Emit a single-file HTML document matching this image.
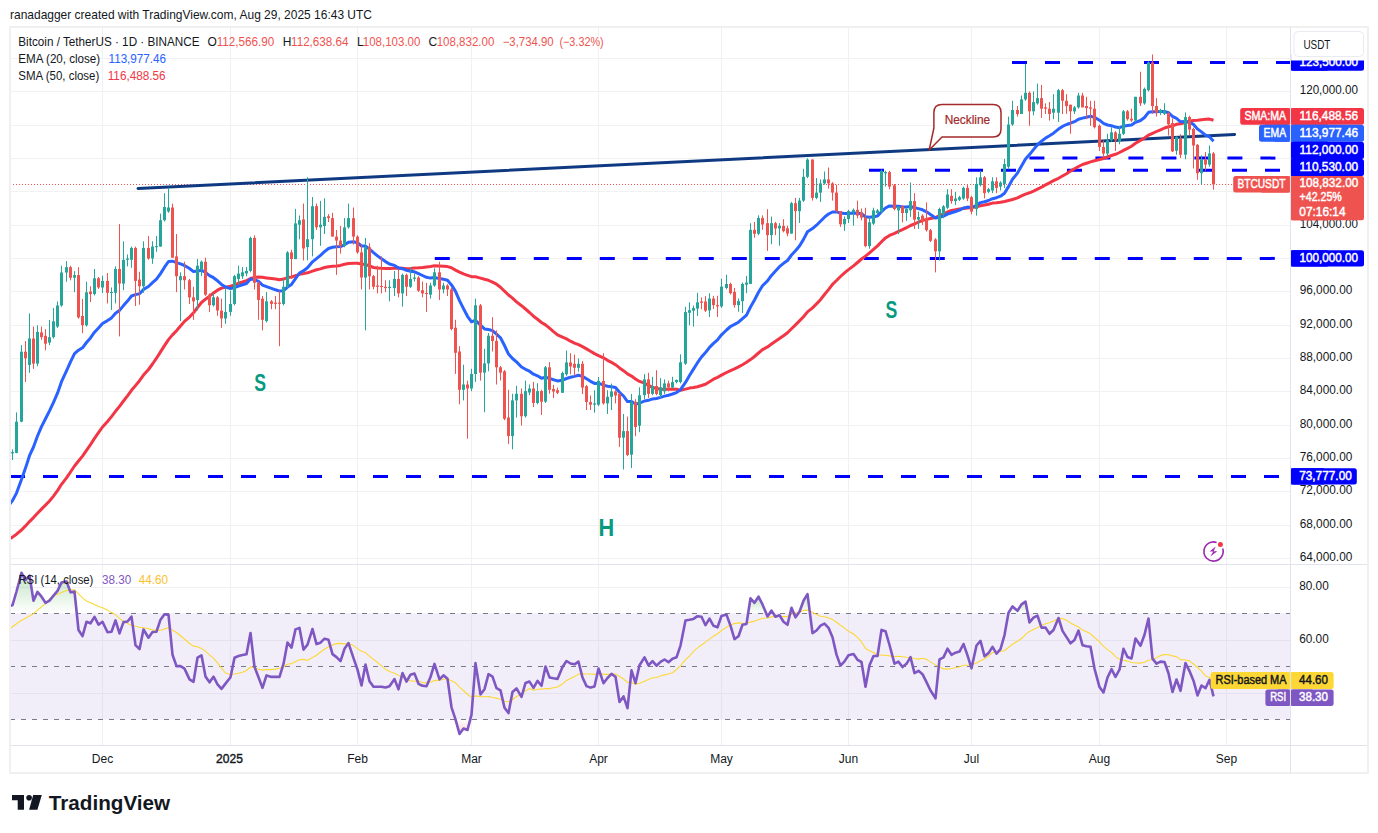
<!DOCTYPE html><html><head><meta charset="utf-8"><style>html,body{margin:0;padding:0;background:#fff;width:1378px;height:833px;overflow:hidden}text{font-family:"Liberation Sans",sans-serif}</style></head><body><svg width="1378" height="833" viewBox="0 0 1378 833" style="display:block;font-family:'Liberation Sans', sans-serif"><rect x="0" y="0" width="1378" height="833" fill="#ffffff"/><defs><clipPath id="pp"><rect x="11" y="28" width="1279" height="536"/></clipPath><clipPath id="rp"><rect x="11" y="565" width="1279" height="180"/></clipPath><linearGradient id="gfill" x1="0" y1="0" x2="0" y2="1"><stop offset="0" stop-color="#4caf50" stop-opacity="0.35"/><stop offset="1" stop-color="#4caf50" stop-opacity="0"/></linearGradient><linearGradient id="rfill" x1="0" y1="0" x2="0" y2="1"><stop offset="0" stop-color="#f23645" stop-opacity="0"/><stop offset="1" stop-color="#f23645" stop-opacity="0.25"/></linearGradient></defs><text x="10.0" y="19.2" font-size="13" fill="#131722" font-weight="normal" text-anchor="start" textLength="362.0" lengthAdjust="spacingAndGlyphs">ranadagger created with TradingView.com, Aug 29, 2025 16:43 UTC</text><rect x="10" y="27" width="1358" height="746" fill="none" stroke="#f0f0f0" stroke-width="2"/><line x1="11" y1="558.5" x2="1290" y2="558.5" stroke="#f1f1f2" stroke-width="1"/><line x1="11" y1="525.5" x2="1290" y2="525.5" stroke="#f1f1f2" stroke-width="1"/><line x1="11" y1="491.5" x2="1290" y2="491.5" stroke="#f1f1f2" stroke-width="1"/><line x1="11" y1="458.5" x2="1290" y2="458.5" stroke="#f1f1f2" stroke-width="1"/><line x1="11" y1="425.5" x2="1290" y2="425.5" stroke="#f1f1f2" stroke-width="1"/><line x1="11" y1="391.5" x2="1290" y2="391.5" stroke="#f1f1f2" stroke-width="1"/><line x1="11" y1="358.5" x2="1290" y2="358.5" stroke="#f1f1f2" stroke-width="1"/><line x1="11" y1="325.5" x2="1290" y2="325.5" stroke="#f1f1f2" stroke-width="1"/><line x1="11" y1="291.5" x2="1290" y2="291.5" stroke="#f1f1f2" stroke-width="1"/><line x1="11" y1="258.5" x2="1290" y2="258.5" stroke="#f1f1f2" stroke-width="1"/><line x1="11" y1="225.5" x2="1290" y2="225.5" stroke="#f1f1f2" stroke-width="1"/><line x1="11" y1="191.5" x2="1290" y2="191.5" stroke="#f1f1f2" stroke-width="1"/><line x1="11" y1="158.5" x2="1290" y2="158.5" stroke="#f1f1f2" stroke-width="1"/><line x1="11" y1="125.5" x2="1290" y2="125.5" stroke="#f1f1f2" stroke-width="1"/><line x1="11" y1="91.5" x2="1290" y2="91.5" stroke="#f1f1f2" stroke-width="1"/><line x1="11" y1="58.5" x2="1290" y2="58.5" stroke="#f1f1f2" stroke-width="1"/><line x1="102.5" y1="28" x2="102.5" y2="745" stroke="#f1f1f2" stroke-width="1"/><line x1="230.5" y1="28" x2="230.5" y2="745" stroke="#f1f1f2" stroke-width="1"/><line x1="357.5" y1="28" x2="357.5" y2="745" stroke="#f1f1f2" stroke-width="1"/><line x1="471.5" y1="28" x2="471.5" y2="745" stroke="#f1f1f2" stroke-width="1"/><line x1="598.5" y1="28" x2="598.5" y2="745" stroke="#f1f1f2" stroke-width="1"/><line x1="721.5" y1="28" x2="721.5" y2="745" stroke="#f1f1f2" stroke-width="1"/><line x1="848.5" y1="28" x2="848.5" y2="745" stroke="#f1f1f2" stroke-width="1"/><line x1="971.5" y1="28" x2="971.5" y2="745" stroke="#f1f1f2" stroke-width="1"/><line x1="1099.5" y1="28" x2="1099.5" y2="745" stroke="#f1f1f2" stroke-width="1"/><line x1="1226.5" y1="28" x2="1226.5" y2="745" stroke="#f1f1f2" stroke-width="1"/><line x1="11" y1="587.5" x2="1290" y2="587.5" stroke="#f1f1f2" stroke-width="1"/><line x1="11" y1="640.5" x2="1290" y2="640.5" stroke="#f1f1f2" stroke-width="1"/><line x1="11" y1="693.5" x2="1290" y2="693.5" stroke="#f1f1f2" stroke-width="1"/><line x1="1290.5" y1="27" x2="1290.5" y2="773" stroke="#e0e3eb" stroke-width="1"/><line x1="11" y1="564.5" x2="1367" y2="564.5" stroke="#e0e3eb" stroke-width="1.2"/><line x1="11" y1="745.5" x2="1367" y2="745.5" stroke="#e0e3eb" stroke-width="1"/><g clip-path="url(#rp)"><rect x="11" y="613.2" width="1279" height="106.3" fill="#7e57c2" fill-opacity="0.1"/><polygon points="8.5,613.2 8.5,606.2 8.5,606.2 12.5,605.2 16.5,591.5 21.5,572.8 25.5,580.0 29.5,575.6 33.5,600.8 37.5,591.9 41.5,596.7 45.5,602.8 49.5,600.6 53.5,595.6 57.5,590.9 61.5,582.6 66.5,581.4 70.5,592.2 74.5,591.5 76.8,613.2" fill="url(#gfill)"/><polygon points="748.2,613.2 750.5,598.3 754.5,602.8 758.5,596.7 762.5,604.4 766.2,613.2" fill="url(#gfill)"/><polygon points="769.7,613.2 771.5,610.6 773.2,613.2" fill="url(#gfill)"/><polygon points="790.2,613.2 791.5,607.7 793.8,613.2" fill="url(#gfill)"/><polygon points="798.4,613.2 799.5,611.7 803.5,600.7 807.5,594.1 809.9,613.2" fill="url(#gfill)"/><polygon points="1008.4,613.2 1008.5,612.7 1012.5,606.4 1017.5,610.8 1021.5,604.4 1025.5,601.6 1027.7,613.2" fill="url(#gfill)"/><polygon points="455.5,719.5 459.5,733.9 463.5,728.5 467.5,730.0 470.2,719.5" fill="url(#rfill)"/><line x1="10" y1="613.5" x2="1290" y2="613.5" stroke="#787b86" stroke-width="1" stroke-dasharray="5,6"/><line x1="10" y1="666.5" x2="1290" y2="666.5" stroke="#787b86" stroke-width="1" stroke-dasharray="5,6"/><line x1="10" y1="719.5" x2="1290" y2="719.5" stroke="#787b86" stroke-width="1" stroke-dasharray="5,6"/><polyline points="8.5,629.5 12.5,626.8 16.5,623.7 21.5,620.2 25.5,618.3 29.5,616.0 33.5,613.7 37.5,610.2 41.5,606.8 45.5,603.4 49.5,599.2 53.5,595.6 57.5,594.2 61.5,592.4 66.5,590.6 70.5,589.7 74.5,589.7 78.5,593.8 82.5,597.8 86.5,601.1 90.5,602.7 94.5,604.5 98.5,606.5 102.5,607.8 107.5,610.1 111.5,612.6 115.5,614.8 119.5,618.4 123.5,621.3 127.5,623.4 131.5,625.2 135.5,626.3 139.5,627.2 143.5,627.8 148.5,628.8 152.5,629.9 156.5,630.4 160.5,630.2 164.5,628.9 168.5,627.7 172.5,630.2 176.5,632.5 180.5,635.7 184.5,639.0 189.5,643.5 193.5,646.1 197.5,646.7 201.5,648.6 205.5,651.3 209.5,654.9 213.5,658.1 217.5,662.8 221.5,668.1 225.5,673.0 230.5,674.6 234.5,674.0 238.5,673.3 242.5,672.3 246.5,670.5 250.5,667.0 254.5,667.7 258.5,669.3 262.5,670.1 266.5,669.6 271.5,669.6 275.5,669.1 279.5,668.2 283.5,666.8 287.5,664.3 291.5,663.6 295.5,661.7 299.5,659.8 303.5,659.4 307.5,660.3 312.5,657.5 316.5,655.2 320.5,652.0 324.5,649.3 328.5,646.7 332.5,645.1 336.5,643.6 340.5,643.4 344.5,643.9 348.5,643.6 353.5,645.6 357.5,648.6 361.5,651.2 365.5,652.6 369.5,656.3 373.5,659.4 377.5,662.5 381.5,665.9 385.5,669.3 389.5,671.6 394.5,673.2 398.5,675.2 402.5,677.0 406.5,679.7 410.5,680.9 414.5,681.2 418.5,681.1 422.5,682.6 426.5,682.9 430.5,682.2 434.5,680.6 439.5,680.1 443.5,679.2 447.5,678.7 451.5,680.7 455.5,682.8 459.5,687.2 463.5,690.5 467.5,694.5 471.5,697.4 475.5,695.9 480.5,696.6 484.5,696.8 488.5,696.6 492.5,697.5 496.5,698.1 500.5,699.2 504.5,701.3 508.5,701.7 512.5,699.7 516.5,696.5 521.5,694.2 525.5,690.9 529.5,688.5 533.5,690.3 537.5,689.3 541.5,689.1 545.5,688.5 549.5,688.6 553.5,687.8 557.5,687.0 562.5,684.1 566.5,680.4 570.5,678.4 574.5,676.6 578.5,674.1 582.5,673.7 586.5,674.0 590.5,674.0 594.5,674.4 598.5,673.2 603.5,674.4 607.5,674.4 611.5,674.1 615.5,674.0 619.5,676.5 623.5,679.0 627.5,682.2 631.5,682.6 635.5,684.2 639.5,683.3 644.5,681.2 648.5,679.6 652.5,677.8 656.5,677.6 660.5,676.1 664.5,674.8 668.5,674.0 672.5,672.7 676.5,669.5 680.5,665.9 685.5,659.6 689.5,656.0 693.5,651.4 697.5,647.9 701.5,645.0 705.5,642.1 709.5,639.1 713.5,636.2 717.5,633.8 721.5,630.6 726.5,627.2 730.5,624.9 734.5,623.6 738.5,622.9 742.5,623.2 746.5,623.5 750.5,622.1 754.5,621.1 758.5,619.7 762.5,618.2 767.5,618.0 771.5,616.9 775.5,616.2 779.5,616.1 783.5,616.6 787.5,616.6 791.5,614.3 795.5,613.0 799.5,612.0 803.5,610.4 807.5,610.1 812.5,612.2 816.5,614.6 820.5,616.2 824.5,616.7 828.5,617.9 832.5,619.4 836.5,622.2 840.5,625.3 844.5,627.9 848.5,631.3 853.5,634.0 857.5,637.4 861.5,641.8 865.5,648.4 869.5,650.7 873.5,652.5 877.5,654.7 881.5,655.1 885.5,655.3 889.5,655.9 894.5,656.5 898.5,656.3 902.5,656.7 906.5,657.3 910.5,657.5 914.5,658.5 918.5,659.1 922.5,658.2 926.5,659.4 930.5,661.9 935.5,664.9 939.5,667.0 943.5,668.9 947.5,669.1 951.5,668.5 955.5,667.8 959.5,666.7 963.5,665.3 967.5,665.2 971.5,664.8 976.5,663.0 980.5,660.7 984.5,658.8 988.5,656.2 992.5,652.5 996.5,652.1 1000.5,651.5 1004.5,650.5 1008.5,647.5 1012.5,644.2 1017.5,641.3 1021.5,638.5 1025.5,634.6 1029.5,631.4 1033.5,629.4 1037.5,627.6 1041.5,625.5 1045.5,623.7 1049.5,622.8 1053.5,621.1 1058.5,618.8 1062.5,618.5 1066.5,620.3 1070.5,622.9 1074.5,625.0 1078.5,626.9 1082.5,630.0 1086.5,631.7 1090.5,633.8 1094.5,637.5 1099.5,641.8 1103.5,646.4 1107.5,649.6 1111.5,652.4 1115.5,656.6 1119.5,659.3 1123.5,660.2 1127.5,661.1 1131.5,662.5 1135.5,663.0 1140.5,663.1 1144.5,662.3 1148.5,660.2 1152.5,659.5 1156.5,657.8 1160.5,655.6 1164.5,654.5 1168.5,654.8 1172.5,655.9 1176.5,656.6 1180.5,659.6 1185.5,660.0 1189.5,660.9 1193.5,664.0 1197.5,667.5 1201.5,671.1 1205.5,676.1 1209.5,677.6 1213.5,680.0" fill="none" stroke="#fdd835" stroke-width="1.1" stroke-linejoin="round"/><polyline points="8.5,606.2 12.5,605.2 16.5,591.5 21.5,572.8 25.5,580.0 29.5,575.6 33.5,600.8 37.5,591.9 41.5,596.7 45.5,602.8 49.5,600.6 53.5,595.6 57.5,590.9 61.5,582.6 66.5,581.4 70.5,592.2 74.5,591.5 78.5,630.0 82.5,636.1 86.5,621.8 90.5,623.3 94.5,616.9 98.5,624.7 102.5,621.8 107.5,632.2 111.5,631.7 115.5,620.4 119.5,633.4 123.5,622.1 127.5,621.5 131.5,616.6 135.5,645.2 139.5,649.2 143.5,629.5 148.5,637.7 152.5,632.0 156.5,631.7 160.5,619.7 164.5,614.3 168.5,614.9 172.5,654.7 176.5,666.1 180.5,666.1 184.5,668.6 189.5,679.4 193.5,681.8 197.5,657.7 201.5,655.3 205.5,676.4 209.5,682.3 213.5,676.7 217.5,684.4 221.5,688.9 225.5,683.6 230.5,677.3 234.5,657.7 238.5,656.0 242.5,655.1 246.5,654.2 250.5,633.0 254.5,666.9 258.5,677.2 262.5,687.9 266.5,675.4 271.5,676.9 275.5,676.9 279.5,676.9 283.5,663.9 287.5,642.5 291.5,647.6 295.5,629.4 299.5,627.9 303.5,649.6 307.5,644.6 312.5,629.0 316.5,644.1 320.5,642.7 324.5,638.7 328.5,639.8 332.5,654.1 336.5,657.1 340.5,661.1 344.5,648.8 348.5,643.1 353.5,658.1 357.5,669.6 361.5,685.4 365.5,664.6 369.5,681.2 373.5,686.7 377.5,686.7 381.5,686.7 385.5,687.5 389.5,686.3 394.5,679.1 398.5,689.3 402.5,673.0 406.5,681.6 410.5,674.7 414.5,673.6 418.5,683.8 422.5,685.8 426.5,686.2 430.5,677.0 434.5,663.9 439.5,679.3 443.5,675.3 447.5,678.8 451.5,707.3 455.5,719.4 459.5,733.9 463.5,728.5 467.5,730.0 471.5,714.6 475.5,663.1 480.5,694.5 484.5,689.2 488.5,674.2 492.5,676.6 496.5,688.2 500.5,690.4 504.5,707.7 508.5,713.1 512.5,692.0 516.5,688.4 521.5,696.9 525.5,683.0 529.5,681.6 533.5,687.9 537.5,680.9 541.5,685.8 545.5,666.5 549.5,677.4 553.5,678.2 557.5,678.9 562.5,667.0 566.5,661.0 570.5,663.5 574.5,664.3 578.5,661.7 582.5,677.5 586.5,686.1 590.5,687.6 594.5,686.5 598.5,668.5 603.5,683.2 607.5,678.0 611.5,673.9 615.5,676.7 619.5,702.0 623.5,696.4 627.5,708.2 631.5,670.3 635.5,683.2 639.5,665.3 644.5,657.4 648.5,665.3 652.5,661.1 656.5,665.7 660.5,661.9 664.5,659.5 668.5,662.2 672.5,658.7 676.5,657.3 680.5,645.6 685.5,620.5 689.5,619.8 693.5,618.9 697.5,616.2 701.5,616.8 705.5,625.2 709.5,618.6 713.5,625.8 717.5,627.3 721.5,616.0 726.5,614.6 730.5,625.7 734.5,639.1 738.5,636.3 742.5,624.8 746.5,623.9 750.5,598.3 754.5,602.8 758.5,596.7 762.5,604.4 767.5,616.4 771.5,610.6 775.5,616.7 779.5,615.3 783.5,621.7 787.5,624.8 791.5,607.7 795.5,617.3 799.5,611.7 803.5,600.7 807.5,594.1 812.5,633.2 816.5,630.5 820.5,625.7 824.5,623.7 828.5,627.8 832.5,637.3 836.5,654.6 840.5,665.6 844.5,661.4 848.5,655.2 853.5,654.1 857.5,659.8 861.5,662.0 865.5,686.7 869.5,665.2 873.5,656.0 877.5,656.0 881.5,629.9 885.5,631.2 889.5,645.0 894.5,663.7 898.5,661.7 902.5,667.1 906.5,663.8 910.5,657.2 914.5,673.1 918.5,670.8 922.5,674.2 926.5,682.1 930.5,690.5 935.5,698.3 939.5,659.4 943.5,657.4 947.5,648.7 951.5,654.8 955.5,652.7 959.5,651.6 963.5,644.0 967.5,655.4 971.5,668.3 976.5,645.5 980.5,640.9 984.5,656.2 988.5,653.1 992.5,646.9 996.5,653.7 1000.5,649.2 1004.5,635.1 1008.5,612.7 1012.5,606.4 1017.5,610.8 1021.5,604.4 1025.5,601.6 1029.5,622.4 1033.5,617.7 1037.5,615.6 1041.5,627.6 1045.5,627.6 1049.5,633.8 1053.5,630.0 1058.5,618.0 1062.5,630.9 1066.5,637.1 1070.5,643.3 1074.5,640.0 1078.5,630.6 1082.5,645.2 1086.5,646.2 1090.5,646.8 1094.5,668.6 1099.5,687.1 1103.5,692.5 1107.5,677.5 1111.5,669.2 1115.5,676.8 1119.5,669.7 1123.5,648.7 1127.5,657.0 1131.5,658.4 1135.5,638.5 1140.5,645.8 1144.5,634.8 1148.5,618.6 1152.5,658.6 1156.5,663.6 1160.5,661.6 1164.5,662.0 1168.5,673.3 1172.5,692.0 1176.5,679.5 1180.5,690.8 1185.5,663.0 1189.5,671.1 1193.5,680.7 1197.5,695.4 1201.5,685.5 1205.5,688.2 1209.5,679.8 1213.5,696.4" fill="none" stroke="#7e57c2" stroke-width="2.6" stroke-linejoin="round"/></g><g clip-path="url(#pp)"><line x1="1012.0" y1="62.5" x2="1290.0" y2="62.5" stroke="#0000ff" stroke-width="3" stroke-dasharray="15,18"/><line x1="1029.4" y1="158.1" x2="1276.0" y2="158.1" stroke="#0000ff" stroke-width="3" stroke-dasharray="15,18"/><line x1="869.0" y1="170.3" x2="1290.0" y2="170.3" stroke="#0000ff" stroke-width="3" stroke-dasharray="15,18"/><line x1="434.8" y1="258.4" x2="1290.0" y2="258.4" stroke="#0000ff" stroke-width="3" stroke-dasharray="15,18"/><line x1="10.0" y1="476.4" x2="1290.0" y2="476.4" stroke="#0000ff" stroke-width="3" stroke-dasharray="15,18"/><line x1="13" y1="184.5" x2="1290" y2="184.5" stroke="#ef5350" stroke-width="1" stroke-dasharray="1,2"/><line x1="138" y1="188.5" x2="1234.6" y2="134.5" stroke="#0f3a82" stroke-width="3" stroke-linecap="round"/><polyline points="8.5,539.4 12.5,537.1 16.5,534.2 21.5,530.0 25.5,525.9 29.5,521.6 33.5,517.6 37.5,513.2 41.5,509.1 45.5,505.1 49.5,501.0 53.5,496.1 57.5,490.6 61.5,484.3 66.5,477.9 70.5,472.0 74.5,466.0 78.5,461.0 82.5,456.1 86.5,450.4 90.5,444.6 94.5,438.4 98.5,432.7 102.5,427.0 107.5,421.5 111.5,416.6 115.5,411.3 119.5,406.4 123.5,401.0 127.5,395.8 131.5,390.3 135.5,385.6 139.5,380.7 143.5,375.1 148.5,369.5 152.5,364.0 156.5,358.2 160.5,351.9 164.5,345.6 168.5,339.6 172.5,334.9 176.5,330.7 180.5,326.1 184.5,321.4 189.5,317.1 193.5,312.8 197.5,307.5 201.5,302.5 205.5,299.2 209.5,296.1 213.5,293.0 217.5,290.2 221.5,288.1 225.5,287.3 230.5,286.2 234.5,285.0 238.5,283.2 242.5,282.0 246.5,280.6 250.5,278.5 254.5,277.4 258.5,277.0 262.5,277.3 266.5,277.9 271.5,278.6 275.5,279.1 279.5,279.7 283.5,279.1 287.5,277.6 291.5,277.0 295.5,275.6 299.5,274.4 303.5,273.6 307.5,272.8 312.5,271.1 316.5,269.8 320.5,268.9 324.5,267.5 328.5,266.7 332.5,266.3 336.5,266.1 340.5,265.4 344.5,264.2 348.5,263.6 353.5,263.2 357.5,263.3 361.5,264.0 365.5,264.5 369.5,265.9 373.5,267.5 377.5,268.0 381.5,268.3 385.5,268.5 389.5,268.6 394.5,268.3 398.5,268.1 402.5,268.3 406.5,268.8 410.5,268.5 414.5,267.9 418.5,267.8 422.5,267.4 426.5,266.9 430.5,266.4 434.5,265.8 439.5,266.0 443.5,266.3 447.5,266.6 451.5,267.8 455.5,270.1 459.5,272.2 463.5,273.9 467.5,275.3 471.5,276.7 475.5,276.8 480.5,278.1 484.5,279.3 488.5,280.3 492.5,282.1 496.5,284.2 500.5,287.2 504.5,291.2 508.5,295.0 512.5,298.2 516.5,301.9 521.5,305.7 525.5,309.0 529.5,312.5 533.5,316.2 537.5,319.3 541.5,322.5 545.5,324.9 549.5,328.2 553.5,331.6 557.5,334.8 562.5,337.2 566.5,338.9 570.5,341.2 574.5,343.1 578.5,344.6 582.5,346.6 586.5,348.9 590.5,351.3 594.5,353.6 598.5,355.6 603.5,357.8 607.5,360.3 611.5,362.4 615.5,364.7 619.5,367.9 623.5,370.7 627.5,373.9 631.5,376.1 635.5,378.9 639.5,381.4 644.5,383.2 648.5,385.4 652.5,387.3 656.5,388.6 660.5,389.3 664.5,389.2 668.5,389.2 672.5,389.1 676.5,389.2 680.5,390.3 685.5,389.1 689.5,388.1 693.5,387.5 697.5,386.7 701.5,385.5 705.5,384.2 709.5,381.8 713.5,379.2 717.5,377.3 721.5,375.2 726.5,372.5 730.5,370.6 734.5,368.9 738.5,366.9 742.5,364.7 746.5,362.3 750.5,359.6 754.5,356.5 758.5,353.0 762.5,349.6 767.5,346.9 771.5,344.1 775.5,341.3 779.5,338.5 783.5,335.8 787.5,332.8 791.5,328.8 795.5,324.9 799.5,320.9 803.5,316.8 807.5,311.9 812.5,307.9 816.5,303.9 820.5,299.7 824.5,294.5 828.5,289.6 832.5,284.3 836.5,280.5 840.5,276.5 844.5,272.9 848.5,269.6 853.5,265.9 857.5,262.5 861.5,259.0 865.5,256.1 869.5,252.9 873.5,249.4 877.5,245.9 881.5,241.8 885.5,237.9 889.5,235.4 894.5,233.4 898.5,231.4 902.5,229.6 906.5,227.7 910.5,225.5 914.5,224.0 918.5,222.2 922.5,220.5 926.5,219.4 930.5,218.5 935.5,217.6 939.5,215.7 943.5,213.8 947.5,212.0 951.5,210.4 955.5,209.8 959.5,209.1 963.5,208.5 967.5,207.9 971.5,207.5 976.5,206.7 980.5,205.7 984.5,205.0 988.5,204.2 992.5,203.1 996.5,202.8 1000.5,202.2 1004.5,201.5 1008.5,200.5 1012.5,199.5 1017.5,197.8 1021.5,195.9 1025.5,194.1 1029.5,192.8 1033.5,191.1 1037.5,189.2 1041.5,187.2 1045.5,184.9 1049.5,182.8 1053.5,180.7 1058.5,178.3 1062.5,176.0 1066.5,173.8 1070.5,171.1 1074.5,168.8 1078.5,166.5 1082.5,164.5 1086.5,163.2 1090.5,161.9 1094.5,160.8 1099.5,159.5 1103.5,158.5 1107.5,157.0 1111.5,155.5 1115.5,154.3 1119.5,152.5 1123.5,150.4 1127.5,148.4 1131.5,146.2 1135.5,143.3 1140.5,140.4 1144.5,138.0 1148.5,135.1 1152.5,133.3 1156.5,131.5 1160.5,129.8 1164.5,128.0 1168.5,126.8 1172.5,125.8 1176.5,124.3 1180.5,123.7 1185.5,122.5 1189.5,121.3 1193.5,120.4 1197.5,120.2 1201.5,119.7 1205.5,119.3 1209.5,119.1 1213.5,120.3" fill="none" stroke="#f23645" stroke-width="3" stroke-linejoin="round"/><polyline points="8.5,505.7 12.5,500.6 16.5,493.1 21.5,479.6 25.5,468.1 29.5,455.7 33.5,447.0 37.5,436.0 41.5,426.6 45.5,418.7 49.5,410.9 53.5,402.4 57.5,393.2 61.5,381.7 66.5,370.8 70.5,361.9 74.5,353.6 78.5,350.2 82.5,347.8 86.5,342.5 90.5,337.9 94.5,332.2 98.5,328.0 102.5,323.5 107.5,320.6 111.5,317.9 115.5,313.2 119.5,310.4 123.5,305.6 127.5,301.1 131.5,296.0 135.5,294.6 139.5,293.8 143.5,289.4 148.5,286.5 152.5,282.7 156.5,279.2 160.5,273.6 164.5,267.2 168.5,261.5 172.5,261.2 176.5,262.6 180.5,263.9 184.5,265.5 189.5,268.5 193.5,271.6 197.5,271.1 201.5,270.2 205.5,272.5 209.5,275.6 213.5,277.7 217.5,280.8 221.5,284.4 225.5,287.0 230.5,288.6 234.5,287.5 238.5,286.1 242.5,284.8 246.5,283.5 250.5,279.1 254.5,279.5 258.5,281.4 262.5,285.1 266.5,286.6 271.5,288.3 275.5,289.8 279.5,291.1 283.5,290.7 287.5,287.1 291.5,284.4 295.5,278.6 299.5,273.0 303.5,270.7 307.5,267.7 312.5,261.8 316.5,258.6 320.5,255.3 324.5,251.7 328.5,248.5 332.5,247.3 336.5,246.7 340.5,246.6 344.5,244.8 348.5,242.2 353.5,241.7 357.5,242.7 361.5,246.0 365.5,246.1 369.5,249.0 373.5,252.6 377.5,255.9 381.5,258.8 385.5,261.6 389.5,264.0 394.5,265.4 398.5,268.1 402.5,268.7 406.5,270.4 410.5,271.2 414.5,271.8 418.5,273.6 422.5,275.5 426.5,277.3 430.5,278.1 434.5,277.5 439.5,278.6 443.5,279.3 447.5,280.3 451.5,284.9 455.5,291.4 459.5,300.7 463.5,308.7 467.5,316.3 471.5,321.8 475.5,320.2 480.5,325.2 484.5,328.9 488.5,329.5 492.5,330.6 496.5,334.1 500.5,337.8 504.5,345.5 508.5,354.1 512.5,358.5 516.5,361.9 521.5,367.0 525.5,369.3 529.5,371.2 533.5,374.2 537.5,375.8 541.5,378.3 545.5,377.2 549.5,378.4 553.5,379.7 557.5,380.9 562.5,380.2 566.5,378.5 570.5,377.3 574.5,376.4 578.5,375.2 582.5,376.4 586.5,378.8 590.5,381.3 594.5,383.4 598.5,383.2 603.5,385.1 607.5,386.2 611.5,386.7 615.5,387.5 619.5,392.3 623.5,396.0 627.5,401.6 631.5,401.6 635.5,404.1 639.5,403.2 644.5,401.0 648.5,400.3 652.5,398.9 656.5,398.5 660.5,397.4 664.5,396.1 668.5,395.2 672.5,394.0 676.5,392.6 680.5,389.7 685.5,382.4 689.5,375.5 693.5,369.1 697.5,362.7 701.5,357.0 705.5,352.6 709.5,347.4 713.5,343.4 717.5,339.9 721.5,334.8 726.5,330.0 730.5,326.5 734.5,324.4 738.5,322.2 742.5,318.6 746.5,315.1 750.5,307.0 754.5,300.0 758.5,292.2 762.5,285.8 767.5,280.9 771.5,275.4 775.5,271.0 779.5,266.7 783.5,263.3 787.5,260.5 791.5,255.0 795.5,250.8 799.5,246.0 803.5,239.4 807.5,231.8 812.5,228.6 816.5,225.2 820.5,221.2 824.5,217.2 828.5,214.0 832.5,212.0 836.5,211.9 840.5,213.1 844.5,213.6 848.5,213.4 853.5,213.1 857.5,213.3 861.5,213.7 865.5,216.8 869.5,217.3 873.5,216.7 877.5,216.1 881.5,211.7 885.5,208.0 889.5,205.9 894.5,206.2 898.5,206.2 902.5,206.9 906.5,207.1 910.5,206.5 914.5,207.8 918.5,208.6 922.5,209.8 926.5,211.8 930.5,214.5 935.5,218.0 939.5,217.2 943.5,216.1 947.5,214.1 951.5,212.8 955.5,211.5 959.5,210.1 963.5,208.0 967.5,207.1 971.5,207.5 976.5,205.3 980.5,202.6 984.5,201.7 988.5,200.5 992.5,198.7 996.5,197.7 1000.5,196.2 1004.5,193.2 1008.5,186.6 1012.5,179.3 1017.5,173.1 1021.5,166.1 1025.5,159.1 1029.5,154.6 1033.5,149.6 1037.5,144.7 1041.5,141.2 1045.5,138.1 1049.5,135.8 1053.5,133.2 1058.5,129.1 1062.5,126.4 1066.5,124.5 1070.5,123.2 1074.5,121.7 1078.5,119.2 1082.5,118.1 1086.5,117.2 1090.5,116.3 1094.5,117.4 1099.5,120.2 1103.5,123.4 1107.5,125.0 1111.5,125.7 1115.5,127.1 1119.5,127.7 1123.5,126.2 1127.5,125.5 1131.5,125.0 1135.5,122.3 1140.5,120.5 1144.5,117.5 1148.5,112.3 1152.5,111.7 1156.5,111.8 1160.5,111.6 1164.5,111.5 1168.5,112.7 1172.5,116.4 1176.5,118.4 1180.5,121.8 1185.5,121.4 1189.5,122.1 1193.5,124.4 1197.5,129.0 1201.5,131.9 1205.5,135.1 1209.5,136.8 1213.5,141.3" fill="none" stroke="#2962ff" stroke-width="3" stroke-linejoin="round"/><rect x="12" y="449.4" width="1" height="10.6" fill="#26a69a"/><rect x="11" y="452.1" width="3" height="1.3" fill="#26a69a"/><rect x="16" y="412.4" width="1" height="40.9" fill="#26a69a"/><rect x="15" y="421.7" width="3" height="31.2" fill="#26a69a"/><rect x="21" y="345.1" width="1" height="77.1" fill="#26a69a"/><rect x="20" y="351.7" width="3" height="70.0" fill="#26a69a"/><rect x="25" y="341.1" width="1" height="40.9" fill="#ef5350"/><rect x="24" y="351.7" width="3" height="6.6" fill="#ef5350"/><rect x="29" y="313.4" width="1" height="59.4" fill="#26a69a"/><rect x="28" y="338.5" width="3" height="26.4" fill="#26a69a"/><rect x="33" y="326.6" width="1" height="42.3" fill="#ef5350"/><rect x="32" y="338.5" width="3" height="25.1" fill="#ef5350"/><rect x="37" y="325.3" width="1" height="40.9" fill="#26a69a"/><rect x="36" y="331.9" width="3" height="31.7" fill="#26a69a"/><rect x="41" y="326.6" width="1" height="13.2" fill="#ef5350"/><rect x="40" y="332.4" width="3" height="4.8" fill="#ef5350"/><rect x="45" y="329.2" width="1" height="21.1" fill="#ef5350"/><rect x="44" y="335.8" width="3" height="7.9" fill="#ef5350"/><rect x="49" y="320.0" width="1" height="25.1" fill="#26a69a"/><rect x="48" y="337.2" width="3" height="5.3" fill="#26a69a"/><rect x="53" y="308.1" width="1" height="30.4" fill="#26a69a"/><rect x="52" y="321.3" width="3" height="15.8" fill="#26a69a"/><rect x="57" y="301.5" width="1" height="26.4" fill="#26a69a"/><rect x="56" y="305.5" width="3" height="21.1" fill="#26a69a"/><rect x="61" y="265.8" width="1" height="40.9" fill="#26a69a"/><rect x="60" y="272.5" width="3" height="33.0" fill="#26a69a"/><rect x="66" y="261.1" width="1" height="20.6" fill="#26a69a"/><rect x="65" y="267.2" width="3" height="5.3" fill="#26a69a"/><rect x="70" y="265.8" width="1" height="14.5" fill="#ef5350"/><rect x="69" y="267.2" width="3" height="10.6" fill="#ef5350"/><rect x="74" y="271.1" width="1" height="21.1" fill="#26a69a"/><rect x="73" y="275.1" width="3" height="2.6" fill="#26a69a"/><rect x="78" y="267.2" width="1" height="51.5" fill="#ef5350"/><rect x="77" y="275.1" width="3" height="42.3" fill="#ef5350"/><rect x="82" y="298.9" width="1" height="34.3" fill="#ef5350"/><rect x="81" y="316.0" width="3" height="9.2" fill="#ef5350"/><rect x="86" y="281.7" width="1" height="44.9" fill="#26a69a"/><rect x="85" y="292.3" width="3" height="33.0" fill="#26a69a"/><rect x="90" y="286.2" width="1" height="15.8" fill="#ef5350"/><rect x="89" y="291.5" width="3" height="2.6" fill="#ef5350"/><rect x="94" y="269.0" width="1" height="26.4" fill="#26a69a"/><rect x="93" y="278.3" width="3" height="15.8" fill="#26a69a"/><rect x="98" y="277.0" width="1" height="11.9" fill="#ef5350"/><rect x="97" y="278.3" width="3" height="9.2" fill="#ef5350"/><rect x="102" y="275.7" width="1" height="17.2" fill="#26a69a"/><rect x="101" y="280.9" width="3" height="6.6" fill="#26a69a"/><rect x="107" y="273.0" width="1" height="30.4" fill="#ef5350"/><rect x="106" y="280.9" width="3" height="11.9" fill="#ef5350"/><rect x="111" y="287.5" width="1" height="22.5" fill="#26a69a"/><rect x="110" y="292.0" width="3" height="1.0" fill="#26a69a"/><rect x="115" y="266.4" width="1" height="37.0" fill="#26a69a"/><rect x="114" y="269.0" width="3" height="23.8" fill="#26a69a"/><rect x="119" y="224.1" width="1" height="112.3" fill="#ef5350"/><rect x="118" y="269.0" width="3" height="14.5" fill="#ef5350"/><rect x="123" y="241.3" width="1" height="48.9" fill="#26a69a"/><rect x="122" y="259.8" width="3" height="23.8" fill="#26a69a"/><rect x="127" y="254.5" width="1" height="11.9" fill="#26a69a"/><rect x="126" y="258.5" width="3" height="1.3" fill="#26a69a"/><rect x="131" y="246.6" width="1" height="21.1" fill="#26a69a"/><rect x="130" y="247.9" width="3" height="11.9" fill="#26a69a"/><rect x="135" y="246.6" width="1" height="59.4" fill="#ef5350"/><rect x="134" y="247.9" width="3" height="33.0" fill="#ef5350"/><rect x="139" y="271.7" width="1" height="33.0" fill="#ef5350"/><rect x="138" y="279.6" width="3" height="6.6" fill="#ef5350"/><rect x="143" y="241.3" width="1" height="51.5" fill="#26a69a"/><rect x="142" y="247.9" width="3" height="38.3" fill="#26a69a"/><rect x="148" y="236.0" width="1" height="23.8" fill="#ef5350"/><rect x="147" y="247.9" width="3" height="10.6" fill="#ef5350"/><rect x="152" y="241.3" width="1" height="22.5" fill="#26a69a"/><rect x="151" y="246.6" width="3" height="11.9" fill="#26a69a"/><rect x="156" y="236.0" width="1" height="15.8" fill="#26a69a"/><rect x="155" y="246.1" width="3" height="1.1" fill="#26a69a"/><rect x="160" y="213.6" width="1" height="33.0" fill="#26a69a"/><rect x="159" y="220.2" width="3" height="26.4" fill="#26a69a"/><rect x="164" y="193.2" width="1" height="28.3" fill="#26a69a"/><rect x="163" y="207.0" width="3" height="13.2" fill="#26a69a"/><rect x="168" y="187.7" width="1" height="25.1" fill="#26a69a"/><rect x="167" y="207.5" width="3" height="4.0" fill="#26a69a"/><rect x="172" y="203.6" width="1" height="54.1" fill="#ef5350"/><rect x="171" y="207.5" width="3" height="50.2" fill="#ef5350"/><rect x="176" y="234.0" width="1" height="58.1" fill="#ef5350"/><rect x="175" y="256.4" width="3" height="19.8" fill="#ef5350"/><rect x="180" y="272.3" width="1" height="48.9" fill="#26a69a"/><rect x="179" y="276.2" width="3" height="4.0" fill="#26a69a"/><rect x="184" y="261.7" width="1" height="27.7" fill="#ef5350"/><rect x="183" y="276.2" width="3" height="4.0" fill="#ef5350"/><rect x="189" y="278.9" width="1" height="25.1" fill="#ef5350"/><rect x="188" y="280.2" width="3" height="17.2" fill="#ef5350"/><rect x="193" y="286.8" width="1" height="33.0" fill="#ef5350"/><rect x="192" y="297.3" width="3" height="4.0" fill="#ef5350"/><rect x="197" y="259.0" width="1" height="51.5" fill="#26a69a"/><rect x="196" y="265.7" width="3" height="34.3" fill="#26a69a"/><rect x="201" y="260.4" width="1" height="15.8" fill="#26a69a"/><rect x="200" y="261.7" width="3" height="7.9" fill="#26a69a"/><rect x="205" y="257.7" width="1" height="38.3" fill="#ef5350"/><rect x="204" y="261.7" width="3" height="33.0" fill="#ef5350"/><rect x="209" y="293.4" width="1" height="18.5" fill="#ef5350"/><rect x="208" y="294.7" width="3" height="10.6" fill="#ef5350"/><rect x="213" y="293.4" width="1" height="13.2" fill="#26a69a"/><rect x="212" y="297.3" width="3" height="7.9" fill="#26a69a"/><rect x="217" y="296.0" width="1" height="19.8" fill="#ef5350"/><rect x="216" y="297.3" width="3" height="13.2" fill="#ef5350"/><rect x="221" y="298.7" width="1" height="29.1" fill="#ef5350"/><rect x="220" y="310.6" width="3" height="7.9" fill="#ef5350"/><rect x="225" y="288.1" width="1" height="35.7" fill="#26a69a"/><rect x="224" y="311.9" width="3" height="6.6" fill="#26a69a"/><rect x="230" y="290.7" width="1" height="25.1" fill="#26a69a"/><rect x="229" y="304.0" width="3" height="7.9" fill="#26a69a"/><rect x="234" y="274.9" width="1" height="30.4" fill="#26a69a"/><rect x="233" y="276.2" width="3" height="27.7" fill="#26a69a"/><rect x="238" y="265.7" width="1" height="18.5" fill="#26a69a"/><rect x="237" y="273.6" width="3" height="5.3" fill="#26a69a"/><rect x="242" y="267.0" width="1" height="11.9" fill="#26a69a"/><rect x="241" y="272.3" width="3" height="4.0" fill="#26a69a"/><rect x="246" y="267.0" width="1" height="9.2" fill="#26a69a"/><rect x="245" y="270.9" width="3" height="2.6" fill="#26a69a"/><rect x="250" y="236.6" width="1" height="35.7" fill="#26a69a"/><rect x="249" y="237.9" width="3" height="33.0" fill="#26a69a"/><rect x="254" y="235.3" width="1" height="54.1" fill="#ef5350"/><rect x="253" y="237.9" width="3" height="44.9" fill="#ef5350"/><rect x="258" y="281.5" width="1" height="38.3" fill="#ef5350"/><rect x="257" y="282.8" width="3" height="17.2" fill="#ef5350"/><rect x="262" y="296.0" width="1" height="34.3" fill="#ef5350"/><rect x="261" y="298.7" width="3" height="21.1" fill="#ef5350"/><rect x="266" y="292.1" width="1" height="30.4" fill="#26a69a"/><rect x="265" y="301.3" width="3" height="19.8" fill="#26a69a"/><rect x="271" y="300.0" width="1" height="9.2" fill="#ef5350"/><rect x="270" y="301.3" width="3" height="2.6" fill="#ef5350"/><rect x="275" y="296.0" width="1" height="13.2" fill="#ef5350"/><rect x="274" y="302.6" width="3" height="1.3" fill="#ef5350"/><rect x="279" y="290.7" width="1" height="55.5" fill="#ef5350"/><rect x="278" y="302.6" width="3" height="1.3" fill="#ef5350"/><rect x="283" y="278.9" width="1" height="26.4" fill="#26a69a"/><rect x="282" y="286.8" width="3" height="17.2" fill="#26a69a"/><rect x="287" y="251.1" width="1" height="37.0" fill="#26a69a"/><rect x="286" y="252.4" width="3" height="34.3" fill="#26a69a"/><rect x="291" y="249.8" width="1" height="29.1" fill="#ef5350"/><rect x="290" y="252.4" width="3" height="6.6" fill="#ef5350"/><rect x="295" y="208.9" width="1" height="50.2" fill="#26a69a"/><rect x="294" y="223.4" width="3" height="35.7" fill="#26a69a"/><rect x="299" y="215.5" width="1" height="23.8" fill="#26a69a"/><rect x="298" y="220.2" width="3" height="4.5" fill="#26a69a"/><rect x="303" y="203.6" width="1" height="56.8" fill="#ef5350"/><rect x="302" y="219.4" width="3" height="29.1" fill="#ef5350"/><rect x="307" y="177.2" width="1" height="83.2" fill="#26a69a"/><rect x="306" y="239.2" width="3" height="7.9" fill="#26a69a"/><rect x="312" y="197.0" width="1" height="59.4" fill="#26a69a"/><rect x="311" y="206.2" width="3" height="33.0" fill="#26a69a"/><rect x="316" y="203.6" width="1" height="26.4" fill="#ef5350"/><rect x="315" y="206.2" width="3" height="21.1" fill="#ef5350"/><rect x="320" y="200.9" width="1" height="44.9" fill="#26a69a"/><rect x="319" y="224.7" width="3" height="2.6" fill="#26a69a"/><rect x="324" y="198.3" width="1" height="35.7" fill="#26a69a"/><rect x="323" y="216.8" width="3" height="9.2" fill="#26a69a"/><rect x="328" y="214.1" width="1" height="7.9" fill="#ef5350"/><rect x="327" y="216.3" width="3" height="1.8" fill="#ef5350"/><rect x="332" y="212.8" width="1" height="23.8" fill="#ef5350"/><rect x="331" y="218.1" width="3" height="18.5" fill="#ef5350"/><rect x="336" y="230.0" width="1" height="44.9" fill="#ef5350"/><rect x="335" y="236.6" width="3" height="4.0" fill="#ef5350"/><rect x="340" y="226.0" width="1" height="27.7" fill="#ef5350"/><rect x="339" y="240.6" width="3" height="5.3" fill="#ef5350"/><rect x="344" y="218.1" width="1" height="29.1" fill="#26a69a"/><rect x="343" y="227.4" width="3" height="18.5" fill="#26a69a"/><rect x="348" y="203.6" width="1" height="25.1" fill="#26a69a"/><rect x="347" y="218.1" width="3" height="9.2" fill="#26a69a"/><rect x="353" y="207.5" width="1" height="37.0" fill="#ef5350"/><rect x="352" y="218.1" width="3" height="18.5" fill="#ef5350"/><rect x="357" y="235.3" width="1" height="18.5" fill="#ef5350"/><rect x="356" y="236.6" width="3" height="15.8" fill="#ef5350"/><rect x="361" y="244.5" width="1" height="44.9" fill="#ef5350"/><rect x="360" y="252.4" width="3" height="25.1" fill="#ef5350"/><rect x="365" y="237.9" width="1" height="92.4" fill="#26a69a"/><rect x="364" y="247.2" width="3" height="30.4" fill="#26a69a"/><rect x="369" y="243.2" width="1" height="46.2" fill="#ef5350"/><rect x="368" y="247.2" width="3" height="29.1" fill="#ef5350"/><rect x="373" y="274.9" width="1" height="14.5" fill="#ef5350"/><rect x="372" y="276.2" width="3" height="10.6" fill="#ef5350"/><rect x="377" y="265.7" width="1" height="27.7" fill="#ef5350"/><rect x="376" y="285.5" width="3" height="1.3" fill="#ef5350"/><rect x="381" y="256.4" width="1" height="37.0" fill="#ef5350"/><rect x="380" y="286.0" width="3" height="1.0" fill="#ef5350"/><rect x="385" y="280.2" width="1" height="11.9" fill="#ef5350"/><rect x="384" y="286.8" width="3" height="1.3" fill="#ef5350"/><rect x="389" y="280.2" width="1" height="21.1" fill="#26a69a"/><rect x="388" y="286.8" width="3" height="1.3" fill="#26a69a"/><rect x="394" y="270.9" width="1" height="25.1" fill="#26a69a"/><rect x="393" y="278.9" width="3" height="9.2" fill="#26a69a"/><rect x="398" y="269.6" width="1" height="27.7" fill="#ef5350"/><rect x="397" y="278.9" width="3" height="14.5" fill="#ef5350"/><rect x="402" y="273.6" width="1" height="33.0" fill="#26a69a"/><rect x="401" y="274.9" width="3" height="18.5" fill="#26a69a"/><rect x="406" y="273.6" width="1" height="22.5" fill="#ef5350"/><rect x="405" y="274.9" width="3" height="11.9" fill="#ef5350"/><rect x="410" y="267.0" width="1" height="21.1" fill="#26a69a"/><rect x="409" y="278.9" width="3" height="7.9" fill="#26a69a"/><rect x="414" y="273.6" width="1" height="7.9" fill="#26a69a"/><rect x="413" y="277.5" width="3" height="1.3" fill="#26a69a"/><rect x="418" y="276.2" width="1" height="15.8" fill="#ef5350"/><rect x="417" y="277.5" width="3" height="13.2" fill="#ef5350"/><rect x="422" y="281.5" width="1" height="15.8" fill="#ef5350"/><rect x="421" y="290.2" width="3" height="3.2" fill="#ef5350"/><rect x="426" y="282.8" width="1" height="29.1" fill="#ef5350"/><rect x="425" y="292.9" width="3" height="1.1" fill="#ef5350"/><rect x="430" y="282.8" width="1" height="15.8" fill="#26a69a"/><rect x="429" y="285.5" width="3" height="9.2" fill="#26a69a"/><rect x="434" y="268.3" width="1" height="18.5" fill="#26a69a"/><rect x="433" y="272.3" width="3" height="13.2" fill="#26a69a"/><rect x="439" y="261.7" width="1" height="38.3" fill="#ef5350"/><rect x="438" y="272.3" width="3" height="17.2" fill="#ef5350"/><rect x="443" y="282.8" width="1" height="10.6" fill="#26a69a"/><rect x="442" y="285.5" width="3" height="4.0" fill="#26a69a"/><rect x="447" y="284.1" width="1" height="11.9" fill="#ef5350"/><rect x="446" y="285.5" width="3" height="4.0" fill="#ef5350"/><rect x="451" y="288.1" width="1" height="42.3" fill="#ef5350"/><rect x="450" y="289.4" width="3" height="39.6" fill="#ef5350"/><rect x="455" y="319.8" width="1" height="54.1" fill="#ef5350"/><rect x="454" y="327.7" width="3" height="25.1" fill="#ef5350"/><rect x="459" y="346.2" width="1" height="58.1" fill="#ef5350"/><rect x="458" y="351.5" width="3" height="38.3" fill="#ef5350"/><rect x="463" y="364.7" width="1" height="35.7" fill="#26a69a"/><rect x="462" y="384.5" width="3" height="5.3" fill="#26a69a"/><rect x="467" y="380.6" width="1" height="58.1" fill="#ef5350"/><rect x="466" y="384.5" width="3" height="4.0" fill="#ef5350"/><rect x="471" y="368.7" width="1" height="22.5" fill="#26a69a"/><rect x="470" y="374.0" width="3" height="14.5" fill="#26a69a"/><rect x="475" y="298.7" width="1" height="83.2" fill="#26a69a"/><rect x="474" y="305.3" width="3" height="68.7" fill="#26a69a"/><rect x="480" y="304.0" width="1" height="76.6" fill="#ef5350"/><rect x="479" y="305.3" width="3" height="67.4" fill="#ef5350"/><rect x="484" y="348.9" width="1" height="63.4" fill="#26a69a"/><rect x="483" y="363.4" width="3" height="9.2" fill="#26a69a"/><rect x="488" y="333.0" width="1" height="38.3" fill="#26a69a"/><rect x="487" y="335.7" width="3" height="27.7" fill="#26a69a"/><rect x="492" y="317.2" width="1" height="34.3" fill="#ef5350"/><rect x="491" y="335.7" width="3" height="5.3" fill="#ef5350"/><rect x="496" y="330.4" width="1" height="54.1" fill="#ef5350"/><rect x="495" y="340.9" width="3" height="26.4" fill="#ef5350"/><rect x="500" y="366.0" width="1" height="14.5" fill="#ef5350"/><rect x="499" y="367.3" width="3" height="5.3" fill="#ef5350"/><rect x="504" y="370.0" width="1" height="50.2" fill="#ef5350"/><rect x="503" y="371.3" width="3" height="47.5" fill="#ef5350"/><rect x="508" y="389.8" width="1" height="54.1" fill="#ef5350"/><rect x="507" y="417.5" width="3" height="18.5" fill="#ef5350"/><rect x="512" y="393.8" width="1" height="55.5" fill="#26a69a"/><rect x="511" y="400.4" width="3" height="35.7" fill="#26a69a"/><rect x="516" y="385.8" width="1" height="31.7" fill="#26a69a"/><rect x="515" y="393.8" width="3" height="6.6" fill="#26a69a"/><rect x="521" y="388.5" width="1" height="37.0" fill="#ef5350"/><rect x="520" y="393.8" width="3" height="22.5" fill="#ef5350"/><rect x="525" y="380.6" width="1" height="37.0" fill="#26a69a"/><rect x="524" y="391.1" width="3" height="25.1" fill="#26a69a"/><rect x="529" y="384.5" width="1" height="10.6" fill="#26a69a"/><rect x="528" y="388.5" width="3" height="4.0" fill="#26a69a"/><rect x="533" y="381.9" width="1" height="25.1" fill="#ef5350"/><rect x="532" y="388.5" width="3" height="14.5" fill="#ef5350"/><rect x="537" y="383.2" width="1" height="21.1" fill="#26a69a"/><rect x="536" y="391.1" width="3" height="11.9" fill="#26a69a"/><rect x="541" y="389.8" width="1" height="25.1" fill="#ef5350"/><rect x="540" y="391.1" width="3" height="10.6" fill="#ef5350"/><rect x="545" y="366.0" width="1" height="37.0" fill="#26a69a"/><rect x="544" y="367.3" width="3" height="34.3" fill="#26a69a"/><rect x="549" y="362.1" width="1" height="31.7" fill="#ef5350"/><rect x="548" y="367.3" width="3" height="22.5" fill="#ef5350"/><rect x="553" y="384.9" width="1" height="13.2" fill="#ef5350"/><rect x="552" y="388.9" width="3" height="2.6" fill="#ef5350"/><rect x="557" y="387.5" width="1" height="6.6" fill="#ef5350"/><rect x="556" y="390.2" width="3" height="2.6" fill="#ef5350"/><rect x="562" y="371.7" width="1" height="21.1" fill="#26a69a"/><rect x="561" y="373.0" width="3" height="19.8" fill="#26a69a"/><rect x="566" y="350.6" width="1" height="25.1" fill="#26a69a"/><rect x="565" y="362.4" width="3" height="11.9" fill="#26a69a"/><rect x="570" y="353.2" width="1" height="21.1" fill="#ef5350"/><rect x="569" y="362.4" width="3" height="4.0" fill="#ef5350"/><rect x="574" y="354.5" width="1" height="21.1" fill="#ef5350"/><rect x="573" y="363.8" width="3" height="4.0" fill="#ef5350"/><rect x="578" y="358.5" width="1" height="13.2" fill="#26a69a"/><rect x="577" y="363.8" width="3" height="4.0" fill="#26a69a"/><rect x="582" y="361.1" width="1" height="33.0" fill="#ef5350"/><rect x="581" y="363.8" width="3" height="23.8" fill="#ef5350"/><rect x="586" y="384.9" width="1" height="25.1" fill="#ef5350"/><rect x="585" y="386.2" width="3" height="15.8" fill="#ef5350"/><rect x="590" y="395.5" width="1" height="14.5" fill="#ef5350"/><rect x="589" y="402.1" width="3" height="2.6" fill="#ef5350"/><rect x="594" y="390.2" width="1" height="22.5" fill="#26a69a"/><rect x="593" y="403.4" width="3" height="1.3" fill="#26a69a"/><rect x="598" y="377.0" width="1" height="29.1" fill="#26a69a"/><rect x="597" y="380.9" width="3" height="23.8" fill="#26a69a"/><rect x="603" y="353.2" width="1" height="51.5" fill="#ef5350"/><rect x="602" y="380.9" width="3" height="22.5" fill="#ef5350"/><rect x="607" y="390.2" width="1" height="23.8" fill="#26a69a"/><rect x="606" y="396.8" width="3" height="6.6" fill="#26a69a"/><rect x="611" y="383.6" width="1" height="26.4" fill="#26a69a"/><rect x="610" y="391.5" width="3" height="5.3" fill="#26a69a"/><rect x="615" y="390.2" width="1" height="13.2" fill="#ef5350"/><rect x="614" y="391.5" width="3" height="4.0" fill="#ef5350"/><rect x="619" y="392.8" width="1" height="54.1" fill="#ef5350"/><rect x="618" y="394.1" width="3" height="43.6" fill="#ef5350"/><rect x="623" y="414.0" width="1" height="55.5" fill="#26a69a"/><rect x="622" y="431.1" width="3" height="6.6" fill="#26a69a"/><rect x="627" y="416.6" width="1" height="39.6" fill="#ef5350"/><rect x="626" y="431.1" width="3" height="23.8" fill="#ef5350"/><rect x="631" y="394.0" width="1" height="74.0" fill="#26a69a"/><rect x="630" y="401.9" width="3" height="52.8" fill="#26a69a"/><rect x="635" y="399.2" width="1" height="37.0" fill="#ef5350"/><rect x="634" y="401.9" width="3" height="25.1" fill="#ef5350"/><rect x="639" y="387.3" width="1" height="44.9" fill="#26a69a"/><rect x="638" y="395.3" width="3" height="30.4" fill="#26a69a"/><rect x="644" y="374.1" width="1" height="25.1" fill="#26a69a"/><rect x="643" y="379.4" width="3" height="15.8" fill="#26a69a"/><rect x="648" y="372.8" width="1" height="25.1" fill="#ef5350"/><rect x="647" y="379.4" width="3" height="14.5" fill="#ef5350"/><rect x="652" y="376.8" width="1" height="18.5" fill="#26a69a"/><rect x="651" y="386.0" width="3" height="7.9" fill="#26a69a"/><rect x="656" y="370.2" width="1" height="25.1" fill="#ef5350"/><rect x="655" y="386.0" width="3" height="7.9" fill="#ef5350"/><rect x="660" y="378.1" width="1" height="19.8" fill="#26a69a"/><rect x="659" y="387.3" width="3" height="7.9" fill="#26a69a"/><rect x="664" y="379.4" width="1" height="14.5" fill="#26a69a"/><rect x="663" y="383.4" width="3" height="7.9" fill="#26a69a"/><rect x="668" y="380.7" width="1" height="10.6" fill="#ef5350"/><rect x="667" y="383.4" width="3" height="4.0" fill="#ef5350"/><rect x="672" y="376.8" width="1" height="11.9" fill="#26a69a"/><rect x="671" y="382.1" width="3" height="5.3" fill="#26a69a"/><rect x="676" y="379.4" width="1" height="4.0" fill="#26a69a"/><rect x="675" y="380.0" width="3" height="2.1" fill="#26a69a"/><rect x="680" y="354.3" width="1" height="29.1" fill="#26a69a"/><rect x="679" y="362.3" width="3" height="19.8" fill="#26a69a"/><rect x="685" y="306.8" width="1" height="58.1" fill="#26a69a"/><rect x="684" y="312.1" width="3" height="51.5" fill="#26a69a"/><rect x="689" y="302.3" width="1" height="23.0" fill="#26a69a"/><rect x="688" y="310.2" width="3" height="2.6" fill="#26a69a"/><rect x="693" y="305.5" width="1" height="21.1" fill="#26a69a"/><rect x="692" y="308.1" width="3" height="2.6" fill="#26a69a"/><rect x="697" y="292.8" width="1" height="23.2" fill="#26a69a"/><rect x="696" y="302.3" width="3" height="6.3" fill="#26a69a"/><rect x="701" y="297.5" width="1" height="11.9" fill="#ef5350"/><rect x="700" y="301.5" width="3" height="1.3" fill="#ef5350"/><rect x="705" y="296.2" width="1" height="15.8" fill="#ef5350"/><rect x="704" y="301.5" width="3" height="9.2" fill="#ef5350"/><rect x="709" y="293.2" width="1" height="23.8" fill="#26a69a"/><rect x="708" y="298.5" width="3" height="11.9" fill="#26a69a"/><rect x="713" y="295.8" width="1" height="13.2" fill="#ef5350"/><rect x="712" y="298.5" width="3" height="6.6" fill="#ef5350"/><rect x="717" y="295.8" width="1" height="21.1" fill="#ef5350"/><rect x="716" y="305.1" width="3" height="1.3" fill="#ef5350"/><rect x="721" y="278.7" width="1" height="29.1" fill="#26a69a"/><rect x="720" y="286.6" width="3" height="19.8" fill="#26a69a"/><rect x="726" y="274.7" width="1" height="14.5" fill="#26a69a"/><rect x="725" y="284.0" width="3" height="4.0" fill="#26a69a"/><rect x="730" y="282.6" width="1" height="11.9" fill="#ef5350"/><rect x="729" y="284.0" width="3" height="9.2" fill="#ef5350"/><rect x="734" y="287.9" width="1" height="19.8" fill="#ef5350"/><rect x="733" y="291.9" width="3" height="13.2" fill="#ef5350"/><rect x="738" y="298.5" width="1" height="13.2" fill="#26a69a"/><rect x="737" y="301.1" width="3" height="4.0" fill="#26a69a"/><rect x="742" y="282.6" width="1" height="30.4" fill="#26a69a"/><rect x="741" y="284.0" width="3" height="17.2" fill="#26a69a"/><rect x="746" y="276.0" width="1" height="17.2" fill="#26a69a"/><rect x="745" y="282.6" width="3" height="2.1" fill="#26a69a"/><rect x="750" y="223.2" width="1" height="60.8" fill="#26a69a"/><rect x="749" y="229.8" width="3" height="54.1" fill="#26a69a"/><rect x="754" y="221.9" width="1" height="15.8" fill="#ef5350"/><rect x="753" y="229.8" width="3" height="4.0" fill="#ef5350"/><rect x="758" y="215.3" width="1" height="19.8" fill="#26a69a"/><rect x="757" y="217.9" width="3" height="15.8" fill="#26a69a"/><rect x="762" y="215.3" width="1" height="14.5" fill="#ef5350"/><rect x="761" y="217.9" width="3" height="6.6" fill="#ef5350"/><rect x="767" y="209.2" width="1" height="41.7" fill="#ef5350"/><rect x="766" y="223.2" width="3" height="11.9" fill="#ef5350"/><rect x="771" y="216.6" width="1" height="27.7" fill="#26a69a"/><rect x="770" y="223.2" width="3" height="11.9" fill="#26a69a"/><rect x="775" y="221.9" width="1" height="13.2" fill="#ef5350"/><rect x="774" y="223.2" width="3" height="5.3" fill="#ef5350"/><rect x="779" y="223.2" width="1" height="22.5" fill="#26a69a"/><rect x="778" y="225.8" width="3" height="2.6" fill="#26a69a"/><rect x="783" y="219.2" width="1" height="13.2" fill="#ef5350"/><rect x="782" y="225.8" width="3" height="5.3" fill="#ef5350"/><rect x="787" y="225.7" width="1" height="10.6" fill="#ef5350"/><rect x="786" y="228.3" width="3" height="5.3" fill="#ef5350"/><rect x="791" y="201.9" width="1" height="31.7" fill="#26a69a"/><rect x="790" y="203.2" width="3" height="30.4" fill="#26a69a"/><rect x="795" y="197.9" width="1" height="42.3" fill="#ef5350"/><rect x="794" y="203.2" width="3" height="7.9" fill="#ef5350"/><rect x="799" y="197.9" width="1" height="25.1" fill="#26a69a"/><rect x="798" y="200.6" width="3" height="10.6" fill="#26a69a"/><rect x="803" y="168.9" width="1" height="33.0" fill="#26a69a"/><rect x="802" y="176.8" width="3" height="23.8" fill="#26a69a"/><rect x="807" y="158.3" width="1" height="19.8" fill="#26a69a"/><rect x="806" y="159.6" width="3" height="17.2" fill="#26a69a"/><rect x="812" y="159.1" width="1" height="41.5" fill="#ef5350"/><rect x="811" y="159.6" width="3" height="38.3" fill="#ef5350"/><rect x="816" y="178.1" width="1" height="21.1" fill="#26a69a"/><rect x="815" y="192.6" width="3" height="5.3" fill="#26a69a"/><rect x="820" y="179.4" width="1" height="22.5" fill="#26a69a"/><rect x="819" y="183.4" width="3" height="9.2" fill="#26a69a"/><rect x="824" y="171.5" width="1" height="13.2" fill="#26a69a"/><rect x="823" y="179.4" width="3" height="4.0" fill="#26a69a"/><rect x="828" y="167.5" width="1" height="21.1" fill="#ef5350"/><rect x="827" y="179.4" width="3" height="4.0" fill="#ef5350"/><rect x="832" y="182.1" width="1" height="18.5" fill="#ef5350"/><rect x="831" y="183.4" width="3" height="9.2" fill="#ef5350"/><rect x="836" y="184.7" width="1" height="27.7" fill="#ef5350"/><rect x="835" y="192.6" width="3" height="18.5" fill="#ef5350"/><rect x="840" y="211.1" width="1" height="15.8" fill="#ef5350"/><rect x="839" y="211.1" width="3" height="13.2" fill="#ef5350"/><rect x="844" y="216.4" width="1" height="14.5" fill="#26a69a"/><rect x="843" y="219.0" width="3" height="5.3" fill="#26a69a"/><rect x="848" y="209.8" width="1" height="13.2" fill="#26a69a"/><rect x="847" y="211.1" width="3" height="7.9" fill="#26a69a"/><rect x="853" y="208.5" width="1" height="17.2" fill="#26a69a"/><rect x="852" y="209.8" width="3" height="2.6" fill="#26a69a"/><rect x="857" y="200.6" width="1" height="17.7" fill="#ef5350"/><rect x="856" y="209.8" width="3" height="5.8" fill="#ef5350"/><rect x="861" y="208.5" width="1" height="11.9" fill="#ef5350"/><rect x="860" y="212.4" width="3" height="5.3" fill="#ef5350"/><rect x="865" y="207.7" width="1" height="39.6" fill="#ef5350"/><rect x="864" y="217.8" width="3" height="28.3" fill="#ef5350"/><rect x="869" y="217.0" width="1" height="31.7" fill="#26a69a"/><rect x="868" y="222.3" width="3" height="23.8" fill="#26a69a"/><rect x="873" y="207.7" width="1" height="17.2" fill="#26a69a"/><rect x="872" y="210.4" width="3" height="13.2" fill="#26a69a"/><rect x="877" y="209.0" width="1" height="5.3" fill="#26a69a"/><rect x="876" y="210.4" width="3" height="2.6" fill="#26a69a"/><rect x="881" y="169.4" width="1" height="43.6" fill="#26a69a"/><rect x="880" y="170.8" width="3" height="40.9" fill="#26a69a"/><rect x="885" y="170.8" width="1" height="15.8" fill="#26a69a"/><rect x="884" y="172.1" width="3" height="1.3" fill="#26a69a"/><rect x="889" y="170.8" width="1" height="18.5" fill="#ef5350"/><rect x="888" y="172.1" width="3" height="14.5" fill="#ef5350"/><rect x="894" y="184.0" width="1" height="26.4" fill="#ef5350"/><rect x="893" y="185.3" width="3" height="23.8" fill="#ef5350"/><rect x="898" y="206.4" width="1" height="27.7" fill="#26a69a"/><rect x="897" y="206.4" width="3" height="4.0" fill="#26a69a"/><rect x="902" y="205.1" width="1" height="17.2" fill="#ef5350"/><rect x="901" y="206.4" width="3" height="6.6" fill="#ef5350"/><rect x="906" y="207.7" width="1" height="13.2" fill="#26a69a"/><rect x="905" y="209.0" width="3" height="4.0" fill="#26a69a"/><rect x="910" y="182.6" width="1" height="34.3" fill="#26a69a"/><rect x="909" y="201.1" width="3" height="9.2" fill="#26a69a"/><rect x="914" y="193.2" width="1" height="35.7" fill="#ef5350"/><rect x="913" y="201.1" width="3" height="18.5" fill="#ef5350"/><rect x="918" y="211.7" width="1" height="17.2" fill="#26a69a"/><rect x="917" y="217.0" width="3" height="2.6" fill="#26a69a"/><rect x="922" y="214.3" width="1" height="10.6" fill="#ef5350"/><rect x="921" y="215.7" width="3" height="5.3" fill="#ef5350"/><rect x="926" y="202.4" width="1" height="29.1" fill="#ef5350"/><rect x="925" y="218.3" width="3" height="11.9" fill="#ef5350"/><rect x="930" y="228.9" width="1" height="13.2" fill="#ef5350"/><rect x="929" y="230.2" width="3" height="10.6" fill="#ef5350"/><rect x="935" y="238.1" width="1" height="34.3" fill="#ef5350"/><rect x="934" y="239.4" width="3" height="11.9" fill="#ef5350"/><rect x="939" y="207.7" width="1" height="52.8" fill="#26a69a"/><rect x="938" y="209.0" width="3" height="42.3" fill="#26a69a"/><rect x="943" y="205.1" width="1" height="13.2" fill="#26a69a"/><rect x="942" y="206.4" width="3" height="7.9" fill="#26a69a"/><rect x="947" y="189.2" width="1" height="19.8" fill="#26a69a"/><rect x="946" y="194.5" width="3" height="13.2" fill="#26a69a"/><rect x="951" y="189.2" width="1" height="14.5" fill="#ef5350"/><rect x="950" y="195.8" width="3" height="5.3" fill="#ef5350"/><rect x="955" y="191.9" width="1" height="13.2" fill="#26a69a"/><rect x="954" y="198.5" width="3" height="2.6" fill="#26a69a"/><rect x="959" y="195.8" width="1" height="5.3" fill="#26a69a"/><rect x="958" y="197.2" width="3" height="2.6" fill="#26a69a"/><rect x="963" y="186.6" width="1" height="13.2" fill="#26a69a"/><rect x="962" y="187.9" width="3" height="10.6" fill="#26a69a"/><rect x="967" y="184.0" width="1" height="17.2" fill="#ef5350"/><rect x="966" y="187.9" width="3" height="10.6" fill="#ef5350"/><rect x="971" y="195.8" width="1" height="18.5" fill="#ef5350"/><rect x="970" y="197.2" width="3" height="14.5" fill="#ef5350"/><rect x="976" y="177.3" width="1" height="38.3" fill="#26a69a"/><rect x="975" y="184.0" width="3" height="25.1" fill="#26a69a"/><rect x="980" y="170.7" width="1" height="15.8" fill="#26a69a"/><rect x="979" y="177.3" width="3" height="7.9" fill="#26a69a"/><rect x="984" y="176.0" width="1" height="22.5" fill="#ef5350"/><rect x="983" y="177.3" width="3" height="15.8" fill="#ef5350"/><rect x="988" y="187.9" width="1" height="5.3" fill="#26a69a"/><rect x="987" y="189.2" width="3" height="2.6" fill="#26a69a"/><rect x="992" y="177.3" width="1" height="15.8" fill="#26a69a"/><rect x="991" y="181.3" width="3" height="9.2" fill="#26a69a"/><rect x="996" y="177.3" width="1" height="15.8" fill="#ef5350"/><rect x="995" y="181.3" width="3" height="6.6" fill="#ef5350"/><rect x="1000" y="181.3" width="1" height="9.2" fill="#26a69a"/><rect x="999" y="182.6" width="3" height="4.0" fill="#26a69a"/><rect x="1004" y="158.9" width="1" height="29.1" fill="#26a69a"/><rect x="1003" y="164.1" width="3" height="19.8" fill="#26a69a"/><rect x="1008" y="116.6" width="1" height="52.8" fill="#26a69a"/><rect x="1007" y="124.5" width="3" height="42.3" fill="#26a69a"/><rect x="1012" y="100.8" width="1" height="25.1" fill="#26a69a"/><rect x="1011" y="110.0" width="3" height="14.5" fill="#26a69a"/><rect x="1017" y="106.0" width="1" height="10.6" fill="#ef5350"/><rect x="1016" y="110.0" width="3" height="4.0" fill="#ef5350"/><rect x="1021" y="95.5" width="1" height="18.5" fill="#26a69a"/><rect x="1020" y="99.4" width="3" height="14.5" fill="#26a69a"/><rect x="1025" y="63.8" width="1" height="37.0" fill="#26a69a"/><rect x="1024" y="92.8" width="3" height="6.6" fill="#26a69a"/><rect x="1029" y="91.5" width="1" height="34.3" fill="#ef5350"/><rect x="1028" y="92.8" width="3" height="18.5" fill="#ef5350"/><rect x="1033" y="91.5" width="1" height="23.8" fill="#26a69a"/><rect x="1032" y="102.1" width="3" height="9.2" fill="#26a69a"/><rect x="1037" y="83.6" width="1" height="21.1" fill="#26a69a"/><rect x="1036" y="98.1" width="3" height="5.3" fill="#26a69a"/><rect x="1041" y="84.9" width="1" height="33.0" fill="#ef5350"/><rect x="1040" y="98.1" width="3" height="10.6" fill="#ef5350"/><rect x="1045" y="103.4" width="1" height="10.6" fill="#ef5350"/><rect x="1044" y="107.4" width="3" height="1.3" fill="#ef5350"/><rect x="1049" y="102.1" width="1" height="18.5" fill="#ef5350"/><rect x="1048" y="108.7" width="3" height="5.3" fill="#ef5350"/><rect x="1053" y="94.1" width="1" height="25.1" fill="#26a69a"/><rect x="1052" y="108.7" width="3" height="4.0" fill="#26a69a"/><rect x="1058" y="88.9" width="1" height="33.0" fill="#26a69a"/><rect x="1057" y="90.2" width="3" height="22.5" fill="#26a69a"/><rect x="1062" y="88.9" width="1" height="25.1" fill="#ef5350"/><rect x="1061" y="90.2" width="3" height="10.6" fill="#ef5350"/><rect x="1066" y="94.1" width="1" height="19.8" fill="#ef5350"/><rect x="1065" y="100.8" width="3" height="5.3" fill="#ef5350"/><rect x="1070" y="104.7" width="1" height="29.1" fill="#ef5350"/><rect x="1069" y="104.7" width="3" height="6.6" fill="#ef5350"/><rect x="1074" y="106.0" width="1" height="7.9" fill="#26a69a"/><rect x="1073" y="107.4" width="3" height="4.0" fill="#26a69a"/><rect x="1078" y="92.8" width="1" height="15.8" fill="#26a69a"/><rect x="1077" y="95.5" width="3" height="11.9" fill="#26a69a"/><rect x="1082" y="92.8" width="1" height="14.5" fill="#ef5350"/><rect x="1081" y="95.5" width="3" height="11.9" fill="#ef5350"/><rect x="1086" y="96.8" width="1" height="22.5" fill="#ef5350"/><rect x="1085" y="106.0" width="3" height="2.1" fill="#ef5350"/><rect x="1090" y="100.8" width="1" height="25.1" fill="#ef5350"/><rect x="1089" y="107.4" width="3" height="1.3" fill="#ef5350"/><rect x="1094" y="100.8" width="1" height="27.7" fill="#ef5350"/><rect x="1093" y="108.7" width="3" height="18.5" fill="#ef5350"/><rect x="1099" y="124.5" width="1" height="26.4" fill="#ef5350"/><rect x="1098" y="125.8" width="3" height="21.1" fill="#ef5350"/><rect x="1103" y="140.4" width="1" height="17.2" fill="#ef5350"/><rect x="1102" y="147.0" width="3" height="6.6" fill="#ef5350"/><rect x="1107" y="133.8" width="1" height="22.5" fill="#26a69a"/><rect x="1106" y="140.4" width="3" height="13.2" fill="#26a69a"/><rect x="1111" y="127.2" width="1" height="14.5" fill="#26a69a"/><rect x="1110" y="132.4" width="3" height="7.9" fill="#26a69a"/><rect x="1115" y="131.1" width="1" height="19.8" fill="#ef5350"/><rect x="1114" y="132.4" width="3" height="7.9" fill="#ef5350"/><rect x="1119" y="125.8" width="1" height="18.5" fill="#26a69a"/><rect x="1118" y="133.8" width="3" height="7.9" fill="#26a69a"/><rect x="1123" y="110.0" width="1" height="25.1" fill="#26a69a"/><rect x="1122" y="111.3" width="3" height="22.5" fill="#26a69a"/><rect x="1127" y="110.0" width="1" height="10.6" fill="#ef5350"/><rect x="1126" y="111.3" width="3" height="7.9" fill="#ef5350"/><rect x="1131" y="108.7" width="1" height="13.2" fill="#ef5350"/><rect x="1130" y="118.7" width="3" height="1.8" fill="#ef5350"/><rect x="1135" y="96.8" width="1" height="25.1" fill="#26a69a"/><rect x="1134" y="96.8" width="3" height="23.8" fill="#26a69a"/><rect x="1140" y="71.7" width="1" height="34.3" fill="#ef5350"/><rect x="1139" y="96.8" width="3" height="6.6" fill="#ef5350"/><rect x="1144" y="87.5" width="1" height="17.2" fill="#26a69a"/><rect x="1143" y="88.9" width="3" height="14.5" fill="#26a69a"/><rect x="1148" y="61.1" width="1" height="30.4" fill="#26a69a"/><rect x="1147" y="62.5" width="3" height="27.7" fill="#26a69a"/><rect x="1152" y="54.5" width="1" height="59.4" fill="#ef5350"/><rect x="1151" y="62.5" width="3" height="43.6" fill="#ef5350"/><rect x="1156" y="98.1" width="1" height="18.5" fill="#ef5350"/><rect x="1155" y="106.0" width="3" height="6.6" fill="#ef5350"/><rect x="1160" y="108.8" width="1" height="6.3" fill="#26a69a"/><rect x="1159" y="109.9" width="3" height="2.6" fill="#26a69a"/><rect x="1164" y="103.2" width="1" height="11.9" fill="#26a69a"/><rect x="1163" y="110.5" width="3" height="3.3" fill="#26a69a"/><rect x="1168" y="112.4" width="1" height="23.1" fill="#ef5350"/><rect x="1167" y="113.1" width="3" height="11.2" fill="#ef5350"/><rect x="1172" y="118.4" width="1" height="33.7" fill="#ef5350"/><rect x="1171" y="123.0" width="3" height="28.4" fill="#ef5350"/><rect x="1176" y="136.2" width="1" height="18.5" fill="#26a69a"/><rect x="1175" y="136.9" width="3" height="13.9" fill="#26a69a"/><rect x="1180" y="134.2" width="1" height="23.8" fill="#ef5350"/><rect x="1179" y="138.9" width="3" height="15.8" fill="#ef5350"/><rect x="1185" y="112.4" width="1" height="46.9" fill="#26a69a"/><rect x="1184" y="117.1" width="3" height="37.6" fill="#26a69a"/><rect x="1189" y="115.7" width="1" height="19.8" fill="#ef5350"/><rect x="1188" y="117.1" width="3" height="12.5" fill="#ef5350"/><rect x="1193" y="127.6" width="1" height="40.9" fill="#ef5350"/><rect x="1192" y="129.0" width="3" height="16.5" fill="#ef5350"/><rect x="1197" y="144.1" width="1" height="35.7" fill="#ef5350"/><rect x="1196" y="144.8" width="3" height="28.4" fill="#ef5350"/><rect x="1201" y="155.4" width="1" height="29.1" fill="#26a69a"/><rect x="1200" y="159.7" width="3" height="13.5" fill="#26a69a"/><rect x="1205" y="152.1" width="1" height="18.5" fill="#ef5350"/><rect x="1204" y="159.7" width="3" height="4.9" fill="#ef5350"/><rect x="1209" y="145.5" width="1" height="21.1" fill="#26a69a"/><rect x="1208" y="153.4" width="3" height="11.2" fill="#26a69a"/><rect x="1213" y="152.1" width="1" height="37.6" fill="#ef5350"/><rect x="1212" y="153.4" width="3" height="31.0" fill="#ef5350"/></g><text x="260.05" y="390.8" font-size="23" font-weight="bold" fill="#089981" text-anchor="middle" textLength="11.8" lengthAdjust="spacingAndGlyphs">S</text><text x="891.3" y="317.9" font-size="23" font-weight="bold" fill="#089981" text-anchor="middle" textLength="11.8" lengthAdjust="spacingAndGlyphs">S</text><text x="606.3" y="535.8" font-size="23" font-weight="bold" fill="#089981" text-anchor="middle" textLength="15.7" lengthAdjust="spacingAndGlyphs">H</text><path d="M942,136.9 L993,136.9 Q1001,136.9 1001,128.9 L1001,112.6 Q1001,104.6 993,104.6 L941.9,104.6 Q933.9,104.6 933.9,112.6 L933.9,128 L929.2,150 Z" fill="#ffffff" stroke="#a52a2a" stroke-width="1.5" stroke-linejoin="round"/><text x="944.7" y="123.7" font-size="12" fill="#a12a2a" font-weight="normal" text-anchor="start" textLength="45.5" lengthAdjust="spacingAndGlyphs" stroke="#a12a2a" stroke-width="0.2">Neckline</text><path d="M 1216.6,542.4 A 9.6 9.6 0 1 0 1222.7,548.6" fill="none" stroke="#9c27b0" stroke-width="1.6"/><circle cx="1220.4" cy="544.4" r="2.5" fill="#f23645"/><path d="M1215.7,546.5 L1209.6,551.6 L1213.3,551.6 L1210.3,556.6 L1217.3,551.2 L1213.6,551.2 Z" fill="#9c27b0"/><text x="18.3" y="45.9" font-size="12" fill="#131722" font-weight="normal" text-anchor="start" textLength="181.2" lengthAdjust="spacingAndGlyphs">Bitcoin / TetherUS · 1D · BINANCE</text><text x="207.5" y="45.9" font-size="12" fill="#131722" font-weight="normal" text-anchor="start">O</text><text x="216.7" y="45.9" font-size="12" fill="#ef5350" font-weight="normal" text-anchor="start" textLength="57.6" lengthAdjust="spacingAndGlyphs">112,566.90</text><text x="282.7" y="45.9" font-size="12" fill="#131722" font-weight="normal" text-anchor="start">H</text><text x="291.0" y="45.9" font-size="12" fill="#ef5350" font-weight="normal" text-anchor="start" textLength="57.6" lengthAdjust="spacingAndGlyphs">112,638.64</text><text x="357.0" y="45.9" font-size="12" fill="#131722" font-weight="normal" text-anchor="start">L</text><text x="362.8" y="45.9" font-size="12" fill="#ef5350" font-weight="normal" text-anchor="start" textLength="57.6" lengthAdjust="spacingAndGlyphs">108,103.00</text><text x="428.4" y="45.9" font-size="12" fill="#131722" font-weight="normal" text-anchor="start">C</text><text x="436.7" y="45.9" font-size="12" fill="#ef5350" font-weight="normal" text-anchor="start" textLength="57.6" lengthAdjust="spacingAndGlyphs">108,832.00</text><text x="502.7" y="45.9" font-size="12" fill="#ef5350" font-weight="normal" text-anchor="start" textLength="50.9" lengthAdjust="spacingAndGlyphs">−3,734.90</text><text x="559.4" y="45.9" font-size="12" fill="#ef5350" font-weight="normal" text-anchor="start" textLength="44.3" lengthAdjust="spacingAndGlyphs">(−3.32%)</text><text x="18.3" y="62.6" font-size="12" fill="#131722" font-weight="normal" text-anchor="start" textLength="81.9" lengthAdjust="spacingAndGlyphs">EMA (20, close)</text><text x="108.5" y="62.6" font-size="12" fill="#2962ff" font-weight="normal" text-anchor="start" textLength="57.6" lengthAdjust="spacingAndGlyphs">113,977.46</text><text x="18.3" y="79.7" font-size="12" fill="#131722" font-weight="normal" text-anchor="start" textLength="81.0" lengthAdjust="spacingAndGlyphs">SMA (50, close)</text><text x="107.7" y="79.7" font-size="12" fill="#f23645" font-weight="normal" text-anchor="start" textLength="57.9" lengthAdjust="spacingAndGlyphs">116,488.56</text><text x="18.4" y="584.0" font-size="12" fill="#131722" font-weight="normal" text-anchor="start" textLength="75.0" lengthAdjust="spacingAndGlyphs">RSI (14, close)</text><text x="102.0" y="584.0" font-size="12" fill="#7e57c2" font-weight="normal" text-anchor="start" textLength="29.2" lengthAdjust="spacingAndGlyphs">38.30</text><text x="138.7" y="584.0" font-size="12" fill="#fbc02d" font-weight="normal" text-anchor="start" textLength="29.2" lengthAdjust="spacingAndGlyphs">44.60</text><text x="1299.7" y="94.1" font-size="12" fill="#131722" font-weight="normal" text-anchor="start" textLength="58.3" lengthAdjust="spacingAndGlyphs">120,000.00</text><text x="1299.7" y="227.5" font-size="12" fill="#131722" font-weight="normal" text-anchor="start" textLength="58.3" lengthAdjust="spacingAndGlyphs">104,000.00</text><text x="1299.7" y="294.1" font-size="12" fill="#131722" font-weight="normal" text-anchor="start" textLength="52.6" lengthAdjust="spacingAndGlyphs">96,000.00</text><text x="1299.7" y="327.5" font-size="12" fill="#131722" font-weight="normal" text-anchor="start" textLength="52.6" lengthAdjust="spacingAndGlyphs">92,000.00</text><text x="1299.7" y="360.8" font-size="12" fill="#131722" font-weight="normal" text-anchor="start" textLength="52.6" lengthAdjust="spacingAndGlyphs">88,000.00</text><text x="1299.7" y="394.1" font-size="12" fill="#131722" font-weight="normal" text-anchor="start" textLength="52.6" lengthAdjust="spacingAndGlyphs">84,000.00</text><text x="1299.7" y="427.5" font-size="12" fill="#131722" font-weight="normal" text-anchor="start" textLength="52.6" lengthAdjust="spacingAndGlyphs">80,000.00</text><text x="1299.7" y="460.8" font-size="12" fill="#131722" font-weight="normal" text-anchor="start" textLength="52.6" lengthAdjust="spacingAndGlyphs">76,000.00</text><text x="1299.7" y="494.1" font-size="12" fill="#131722" font-weight="normal" text-anchor="start" textLength="52.6" lengthAdjust="spacingAndGlyphs">72,000.00</text><text x="1299.7" y="527.5" font-size="12" fill="#131722" font-weight="normal" text-anchor="start" textLength="52.6" lengthAdjust="spacingAndGlyphs">68,000.00</text><text x="1299.7" y="560.8" font-size="12" fill="#131722" font-weight="normal" text-anchor="start" textLength="52.6" lengthAdjust="spacingAndGlyphs">64,000.00</text><rect x="1291.1" y="54.0" width="72.9" height="16.7" rx="2.5" fill="#0000ff"/><rect x="1291.1" y="54.0" width="36.5" height="16.7" fill="#0000ff"/><text x="1299.6" y="65.7" font-size="12" fill="#ffffff" font-weight="normal" text-anchor="start" textLength="58.5" lengthAdjust="spacingAndGlyphs" stroke="#ffffff" stroke-width="0.45">123,500.00</text><rect x="1291.1" y="53.5" width="73" height="7" fill="#ffffff"/><rect x="1294" y="31.5" width="69.5" height="25" rx="4" fill="#ffffff" stroke="#e9ebf0" stroke-width="1"/><text x="1303.4" y="48.8" font-size="12" fill="#131722" font-weight="normal" text-anchor="start" textLength="27.0" lengthAdjust="spacingAndGlyphs">USDT</text><rect x="1291.1" y="108.1" width="72.9" height="16.7" rx="2.5" fill="#f23645"/><rect x="1291.1" y="108.1" width="36.5" height="16.7" fill="#f23645"/><text x="1299.6" y="119.7" font-size="12" fill="#ffffff" font-weight="normal" text-anchor="start" textLength="58.5" lengthAdjust="spacingAndGlyphs" stroke="#ffffff" stroke-width="0.45">116,488.56</text><rect x="1240.2" y="108.1" width="49.6" height="16.7" rx="2.5" fill="#f23645"/><rect x="1265.0" y="108.1" width="24.8" height="16.7" fill="#f23645"/><text x="1244.4" y="119.7" font-size="12" fill="#ffffff" font-weight="normal" text-anchor="start" textLength="41.8" lengthAdjust="spacingAndGlyphs" stroke="#ffffff" stroke-width="0.45">SMA:MA</text><rect x="1291.1" y="124.8" width="72.9" height="17.0" rx="2.5" fill="#2962ff"/><rect x="1291.1" y="124.8" width="36.5" height="17.0" fill="#2962ff"/><text x="1299.6" y="136.6" font-size="12" fill="#ffffff" font-weight="normal" text-anchor="start" textLength="58.5" lengthAdjust="spacingAndGlyphs" stroke="#ffffff" stroke-width="0.45">113,977.46</text><rect x="1259.0" y="124.8" width="30.8" height="17.0" rx="2.5" fill="#2962ff"/><rect x="1274.4" y="124.8" width="15.4" height="17.0" fill="#2962ff"/><text x="1263.6" y="136.6" font-size="12" fill="#ffffff" font-weight="normal" text-anchor="start" textLength="22.5" lengthAdjust="spacingAndGlyphs" stroke="#ffffff" stroke-width="0.45">EMA</text><rect x="1291.1" y="141.8" width="72.9" height="17.1" rx="2.5" fill="#0000ff"/><rect x="1291.1" y="141.8" width="36.5" height="17.1" fill="#0000ff"/><text x="1299.6" y="153.7" font-size="12" fill="#ffffff" font-weight="normal" text-anchor="start" textLength="58.5" lengthAdjust="spacingAndGlyphs" stroke="#ffffff" stroke-width="0.45">112,000.00</text><rect x="1291.1" y="158.9" width="72.9" height="17.2" rx="2.5" fill="#0000ff"/><rect x="1291.1" y="158.9" width="36.5" height="17.2" fill="#0000ff"/><text x="1299.6" y="170.8" font-size="12" fill="#ffffff" font-weight="normal" text-anchor="start" textLength="58.5" lengthAdjust="spacingAndGlyphs" stroke="#ffffff" stroke-width="0.45">110,530.00</text><rect x="1291.1" y="176.1" width="72.9" height="44.2" rx="2.5" fill="#ef5350"/><rect x="1291.1" y="176.1" width="36.5" height="44.2" fill="#ef5350"/><text x="1299.5" y="187.4" font-size="12" fill="#ffffff" font-weight="normal" text-anchor="start" textLength="58.7" lengthAdjust="spacingAndGlyphs" stroke="#ffffff" stroke-width="0.45">108,832.00</text><text x="1299.5" y="201.4" font-size="12" fill="#ffffff" font-weight="normal" text-anchor="start" textLength="42.3" lengthAdjust="spacingAndGlyphs" stroke="#ffffff" stroke-width="0.45">+42.25%</text><text x="1299.3" y="215.5" font-size="12" fill="#ffffff" font-weight="normal" text-anchor="start" textLength="46.3" lengthAdjust="spacingAndGlyphs" stroke="#ffffff" stroke-width="0.45">07:16:14</text><rect x="1233.2" y="176.1" width="56.6" height="16.5" rx="2.5" fill="#ef5350"/><rect x="1261.5" y="176.1" width="28.3" height="16.5" fill="#ef5350"/><text x="1237.4" y="187.7" font-size="12" fill="#ffffff" font-weight="normal" text-anchor="start" textLength="48.1" lengthAdjust="spacingAndGlyphs" stroke="#ffffff" stroke-width="0.45">BTCUSDT</text><rect x="1291.1" y="250.2" width="72.9" height="16.4" rx="2.5" fill="#0000ff"/><rect x="1291.1" y="250.2" width="36.5" height="16.4" fill="#0000ff"/><text x="1299.6" y="261.7" font-size="12" fill="#ffffff" font-weight="normal" text-anchor="start" textLength="58.5" lengthAdjust="spacingAndGlyphs" stroke="#ffffff" stroke-width="0.45">100,000.00</text><rect x="1291.1" y="468.2" width="65.7" height="16.4" rx="2.5" fill="#0000ff"/><rect x="1291.1" y="468.2" width="32.9" height="16.4" fill="#0000ff"/><text x="1299.2" y="479.7" font-size="12" fill="#ffffff" font-weight="normal" text-anchor="start" textLength="52.6" lengthAdjust="spacingAndGlyphs" stroke="#ffffff" stroke-width="0.45">73,777.00</text><text x="1299.2" y="589.8" font-size="12" fill="#131722" font-weight="normal" text-anchor="start" textLength="29.5" lengthAdjust="spacingAndGlyphs">80.00</text><text x="1299.2" y="643.0" font-size="12" fill="#131722" font-weight="normal" text-anchor="start" textLength="29.5" lengthAdjust="spacingAndGlyphs">60.00</text><rect x="1210.7" y="672.1" width="79.1" height="16.8" rx="2.5" fill="#fdd835"/><rect x="1250.2" y="672.1" width="39.5" height="16.8" fill="#fdd835"/><text x="1215.5" y="683.8" font-size="12" fill="#131722" font-weight="normal" text-anchor="start" textLength="71.0" lengthAdjust="spacingAndGlyphs" stroke="#131722" stroke-width="0.45">RSI-based MA</text><rect x="1291.1" y="672.1" width="42.5" height="16.8" rx="2.5" fill="#fdd835"/><rect x="1291.1" y="672.1" width="21.2" height="16.8" fill="#fdd835"/><text x="1299.0" y="683.8" font-size="12" fill="#131722" font-weight="normal" text-anchor="start" textLength="29.0" lengthAdjust="spacingAndGlyphs" stroke="#131722" stroke-width="0.45">44.60</text><rect x="1265.4" y="689.5" width="24.4" height="16.4" rx="2.5" fill="#7e57c2"/><rect x="1277.6" y="689.5" width="12.2" height="16.4" fill="#7e57c2"/><text x="1270.2" y="701.0" font-size="12" fill="#ffffff" font-weight="normal" text-anchor="start" textLength="16.0" lengthAdjust="spacingAndGlyphs" stroke="#ffffff" stroke-width="0.45">RSI</text><rect x="1291.1" y="689.5" width="42.5" height="16.4" rx="2.5" fill="#7e57c2"/><rect x="1291.1" y="689.5" width="21.2" height="16.4" fill="#7e57c2"/><text x="1299.0" y="701.0" font-size="12" fill="#ffffff" font-weight="normal" text-anchor="start" textLength="29.0" lengthAdjust="spacingAndGlyphs" stroke="#ffffff" stroke-width="0.45">38.30</text><text x="102.5" y="762.8" font-size="12" fill="#131722" font-weight="normal" text-anchor="middle">Dec</text><text x="216.1" y="762.8" font-size="12" fill="#131722" font-weight="normal" text-anchor="start" textLength="26.8" lengthAdjust="spacingAndGlyphs" stroke="#131722" stroke-width="0.4">2025</text><text x="357.5" y="762.8" font-size="12" fill="#131722" font-weight="normal" text-anchor="middle">Feb</text><text x="471.5" y="762.8" font-size="12" fill="#131722" font-weight="normal" text-anchor="middle">Mar</text><text x="598.5" y="762.8" font-size="12" fill="#131722" font-weight="normal" text-anchor="middle">Apr</text><text x="721.5" y="762.8" font-size="12" fill="#131722" font-weight="normal" text-anchor="middle">May</text><text x="848.5" y="762.8" font-size="12" fill="#131722" font-weight="normal" text-anchor="middle">Jun</text><text x="971.5" y="762.8" font-size="12" fill="#131722" font-weight="normal" text-anchor="middle">Jul</text><text x="1099.5" y="762.8" font-size="12" fill="#131722" font-weight="normal" text-anchor="middle">Aug</text><text x="1226.5" y="762.8" font-size="12" fill="#131722" font-weight="normal" text-anchor="middle">Sep</text><path d="M12,795 H24 V809.8 H17.7 V800.2 H12 Z" fill="#131722"/><circle cx="29.1" cy="797.8" r="2.8" fill="#131722"/><path d="M33.2,795 H41.8 L37.4,809.8 H29.1 Z" fill="#131722"/><text x="48.8" y="809.8" font-size="20.5" fill="#131722" font-weight="bold" text-anchor="start" textLength="121.3" lengthAdjust="spacingAndGlyphs">TradingView</text></svg></body></html>
